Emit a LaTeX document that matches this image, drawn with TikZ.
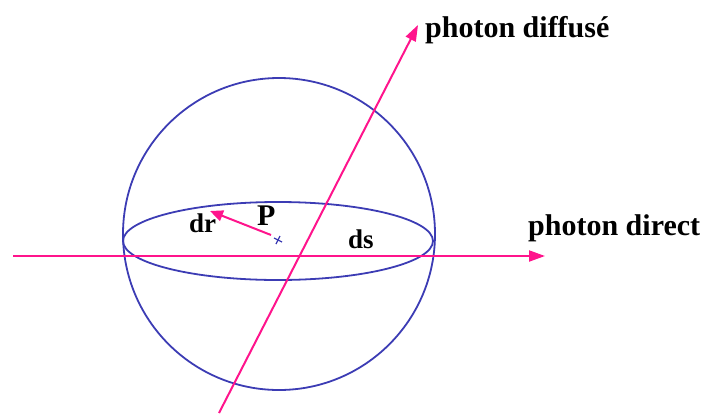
\documentclass[tikz,border=0pt]{standalone}
\usepackage{fontspec}
\setmainfont{Liberation Serif}
\usetikzlibrary{arrows.meta,calc}
\definecolor{rosep}{RGB}{255,20,140}
\definecolor{bleus}{RGB}{60,60,180}
\tikzset{
  ray/.style={draw=rosep, line width=2pt, -{Triangle[length=16pt,width=11pt]}},
  sph/.style={draw=bleus, line width=1.8pt},
  lbl/.style={inner sep=0pt, anchor=base west, font=\bfseries\fontsize{30}{33}\selectfont},
  sml/.style={inner sep=0pt, anchor=base west, font=\bfseries\fontsize{27}{30}\selectfont}
}
\begin{document}
\begin{tikzpicture}[x=1pt,y=-1pt]
\useasboundingbox (0,0) rectangle (706,413);
% sphere and equator
\coordinate (C) at (279,234);
\coordinate (E) at (278,241);
\draw[sph] (C) circle[radius=156];
\draw[sph] (E) ellipse[x radius=155, y radius=39];
% rays
\coordinate (dA) at (13,256);
\coordinate (dB) at (545,256);
\draw[ray] (dA) -- (dB);
\coordinate (sA) at (219,413);
\coordinate (sB) at (418,25);
\draw[ray] (sA) -- (sB);
% point P
\coordinate (Pt) at (278,240);
\draw[draw=bleus, line width=1.2pt] ($(Pt)+(-4,-2)$) -- ($(Pt)+(4,2)$) ($(Pt)+(-2,4)$) -- ($(Pt)+(2,-4)$);
\coordinate (drA) at (271,235);
\coordinate (drB) at (210,211);
\draw[draw=rosep, line width=2pt, -{Triangle[length=13pt,width=11pt]}] (drA) -- (drB);
% labels
\node[lbl] (ldiff) at (425,37) {photon diffusé};
\node[lbl] (ldir) at (528,235) {photon direct};
\node[lbl] (lP) at (257,225) {P};
\node[sml] (ldr) at (189,232) {dr};
\node[sml] (lds) at (348,248) {ds};
\end{tikzpicture}
\end{document}
